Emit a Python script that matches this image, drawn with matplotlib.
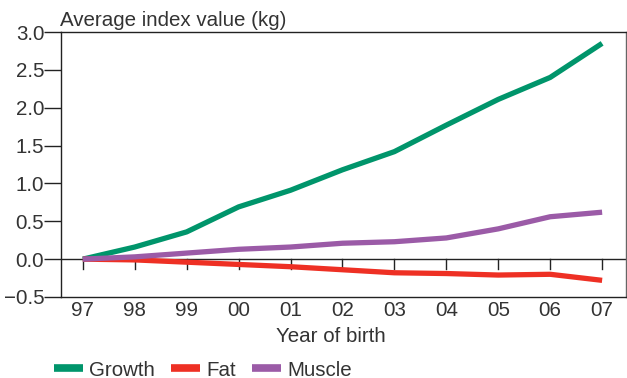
import matplotlib
matplotlib.use("Agg")
import matplotlib.pyplot as plt

years = ["97", "98", "99", "00", "01", "02", "03", "04", "05", "06", "07"]
growth = [0.0, 0.16, 0.36, 0.69, 0.91, 1.18, 1.42, 1.77, 2.11, 2.40, 2.85]
fat = [0.0, -0.01, -0.04, -0.07, -0.10, -0.14, -0.18, -0.19, -0.21, -0.20, -0.28]
muscle = [0.0, 0.03, 0.08, 0.13, 0.16, 0.21, 0.23, 0.28, 0.40, 0.56, 0.62]
yticks = [-0.5, 0.0, 0.5, 1.0, 1.5, 2.0, 2.5, 3.0]
ytick_labels = ["\u22120.5", "0.0", "0.5", "1.0", "1.5", "2.0", "2.5", "3.0"]

plt.rcParams['font.family'] = ['Liberation Sans', 'DejaVu Sans']
txt = '#333333'
fs = 14.8

fig = plt.figure(figsize=(6.27, 3.78), dpi=100)
ax = fig.add_axes([61/627, 1 - 297/378, (626-61)/627, (297-32)/378])

x = list(range(len(years)))
lw = 3.8
ax.plot(x, growth, color='#00956B', lw=lw, label='Growth', solid_capstyle='butt')
ax.plot(x, fat, color='#EE3024', lw=lw, label='Fat', solid_capstyle='butt')
ax.plot(x, muscle, color='#9B5BA7', lw=lw, label='Muscle', solid_capstyle='butt')

ax.axhline(0, color='#222222', lw=1.0, zorder=1)
for xi in x:
    ax.plot([xi, xi], [0, -0.13], color='#222222', lw=1.0, zorder=1)

ax.set_xlim(-0.42, 10.46)
ax.set_ylim(-0.5, 3.0)
ax.set_yticks(yticks)
ax.set_yticklabels(ytick_labels)
ax.set_xticks(x)
ax.set_xticklabels(years)
ax.tick_params(axis='y', length=12, width=1.0, color='#222222', labelsize=fs, labelcolor=txt, pad=0)
ax.tick_params(axis='x', length=0, labelsize=fs, labelcolor=txt, pad=3)

for s in ['left', 'bottom', 'top']:
    ax.spines[s].set_color('#222222')
    ax.spines[s].set_linewidth(1.0)
ax.spines['right'].set_color('#666666')
ax.spines['right'].set_linewidth(1.0)

fig.text(331/627, 1 - 337/378, 'Year of birth', fontsize=fs, color=txt, ha='center', va='center')
fig.text(60/627, 1 - 26/378, 'Average index value (kg)', fontsize=fs, color=txt, ha='left', va='baseline')

leg = fig.legend(loc='center left', bbox_to_anchor=(54/627, 1 - 370/378), ncol=3, frameon=False,
                 fontsize=fs, handlelength=1.4, handletextpad=0.3, columnspacing=0.8,
                 borderaxespad=0, borderpad=0)
for t in leg.get_texts():
    t.set_color(txt)
for h in leg.get_lines():
    h.set_linewidth(5.5)

fig.savefig('out.png', dpi=100)
